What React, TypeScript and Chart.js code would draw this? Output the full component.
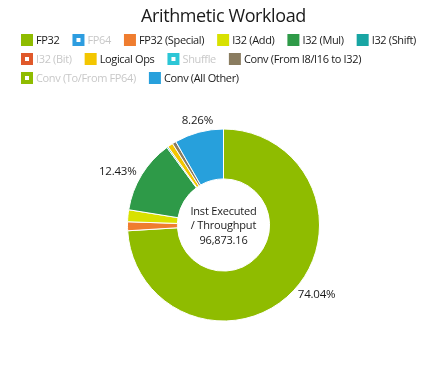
import React, { useEffect, useRef } from "react";
import { Chart, registerables } from "chart.js";
Chart.register(...registerables);

const FONT = "'Open Sans', 'Noto Sans', sans-serif";

const titleText = "Arithmetic Workload";
const categories = [
  "FP32",
  "FP64",
  "FP32 (Special)",
  "I32 (Add)",
  "I32 (Mul)",
  "I32 (Shift)",
  "I32 (Bit)",
  "Logical Ops",
  "Shuffle",
  "Conv (From I8/I16 to I32)",
  "Conv (To/From FP64)",
  "Conv (All Other)",
];
const shares = [74.04, 0, 1.5, 2.0, 12.43, 0.22, 0, 0.9, 0, 0.65, 0, 8.26];
const colors = [
  "#8fbc00",
  "#2d9de0",
  "#ef7d2f",
  "#d8e100",
  "#2e9a48",
  "#18a5a3",
  "#e0582a",
  "#f3c600",
  "#2cc6d6",
  "#8a7c60",
  "#8fbc00",
  "#27a0dc",
];
const centerLines = ["Inst Executed", "/ Throughput", "96,873.16"];
const labelThreshold = 5;

const TEXT = "#1a1a1a";
const MUTED = "#c8c8c8";

function setSpacing(ctx: any, v: string) {
  try {
    ctx.letterSpacing = v;
  } catch (e) {}
}

const headerPlugin = {
  id: "header",
  afterDraw(chart: any) {
    const ctx = chart.ctx;
    const W = chart.width;
    ctx.save();
    // title
    ctx.font = `18px ${FONT}`;
    setSpacing(ctx, "-0.4px");
    ctx.fillStyle = TEXT;
    ctx.textAlign = "center";
    ctx.textBaseline = "middle";
    ctx.fillText(titleText, W / 2, 17);
    // legend
    ctx.font = `11px ${FONT}`;
    setSpacing(ctx, "-0.35px");
    ctx.textAlign = "left";
    const startX = 21;
    const maxX = W - 12;
    const box = 12;
    const rowH = 19;
    let x = startX;
    let y = 40;
    categories.forEach((name, i) => {
      const tw = ctx.measureText(name).width;
      const w = box + 3 + tw;
      if (x > startX && x + w > maxX) {
        x = startX;
        y += rowH;
      }
      const empty = shares[i] <= 0;
      ctx.fillStyle = colors[i];
      ctx.fillRect(x, y - box / 2, box, box);
      if (empty) {
        ctx.fillStyle = "#ffffff";
        ctx.fillRect(x + 4, y - 2, 4, 4);
      }
      ctx.fillStyle = empty ? MUTED : TEXT;
      ctx.fillText(name, x + box + 3, y + 0.5);
      x += w + 13;
    });
    ctx.restore();
  },
};

const labelPlugin = {
  id: "sliceLabels",
  afterDatasetsDraw(chart: any) {
    const ctx = chart.ctx;
    const meta = chart.getDatasetMeta(0);
    const total = shares.reduce((a, b) => a + b, 0);
    ctx.save();
    ctx.font = `11.5px ${FONT}`;
    setSpacing(ctx, "-0.2px");
    ctx.fillStyle = TEXT;
    ctx.textBaseline = "middle";
    let cx = 0,
      cy = 0;
    meta.data.forEach((arc: any, i: number) => {
      const p = arc.getProps(["x", "y", "startAngle", "endAngle", "outerRadius"], true);
      cx = p.x;
      cy = p.y;
      const pct = (shares[i] / total) * 100;
      if (pct < labelThreshold) return;
      const mid = (p.startAngle + p.endAngle) / 2;
      const dx = Math.cos(mid);
      const dy = Math.sin(mid);
      const r = p.outerRadius + 6;
      let x = p.x + dx * r;
      let y = p.y + dy * r;
      const text = pct.toFixed(2) + "%";
      if (Math.abs(dx) < 0.4) {
        ctx.textAlign = "center";
        y += Math.sign(dy) * 6;
      } else {
        ctx.textAlign = dx > 0 ? "left" : "right";
      }
      ctx.fillText(text, x, y);
    });
    ctx.textAlign = "center";
    ctx.font = `11px ${FONT}`;
    setSpacing(ctx, "-0.2px");
    ctx.fillStyle = TEXT;
    centerLines.forEach((t, k) => {
      ctx.fillText(t, cx, cy + 1 + (k - 1) * 14.5);
    });
    ctx.restore();
  },
};

export default function App() {
  const ref = useRef<HTMLCanvasElement | null>(null);
  useEffect(() => {
    if (!ref.current) return;
    const chart = new Chart(ref.current, {
      type: "doughnut",
      data: {
        labels: categories,
        datasets: [
          {
            data: shares,
            backgroundColor: colors,
            borderColor: "#ffffff",
            borderWidth: 1,
          },
        ],
      },
      options: {
        animation: false,
        responsive: false,
        maintainAspectRatio: false,
        radius: 96,
        cutout: "48%",
        layout: { padding: { left: 0, right: 0, top: 90, bottom: 6 } },
        plugins: {
          tooltip: { enabled: false },
          title: { display: false },
          legend: { display: false },
        },
      },
      plugins: [labelPlugin, headerPlugin],
    });
    return () => chart.destroy();
  }, []);
  return (
    <div style={{ position: "absolute", left: 0, top: 0, width: 447, height: 366, background: "#fff" }}>
      <canvas ref={ref} width={447} height={366} />
    </div>
  );
}
